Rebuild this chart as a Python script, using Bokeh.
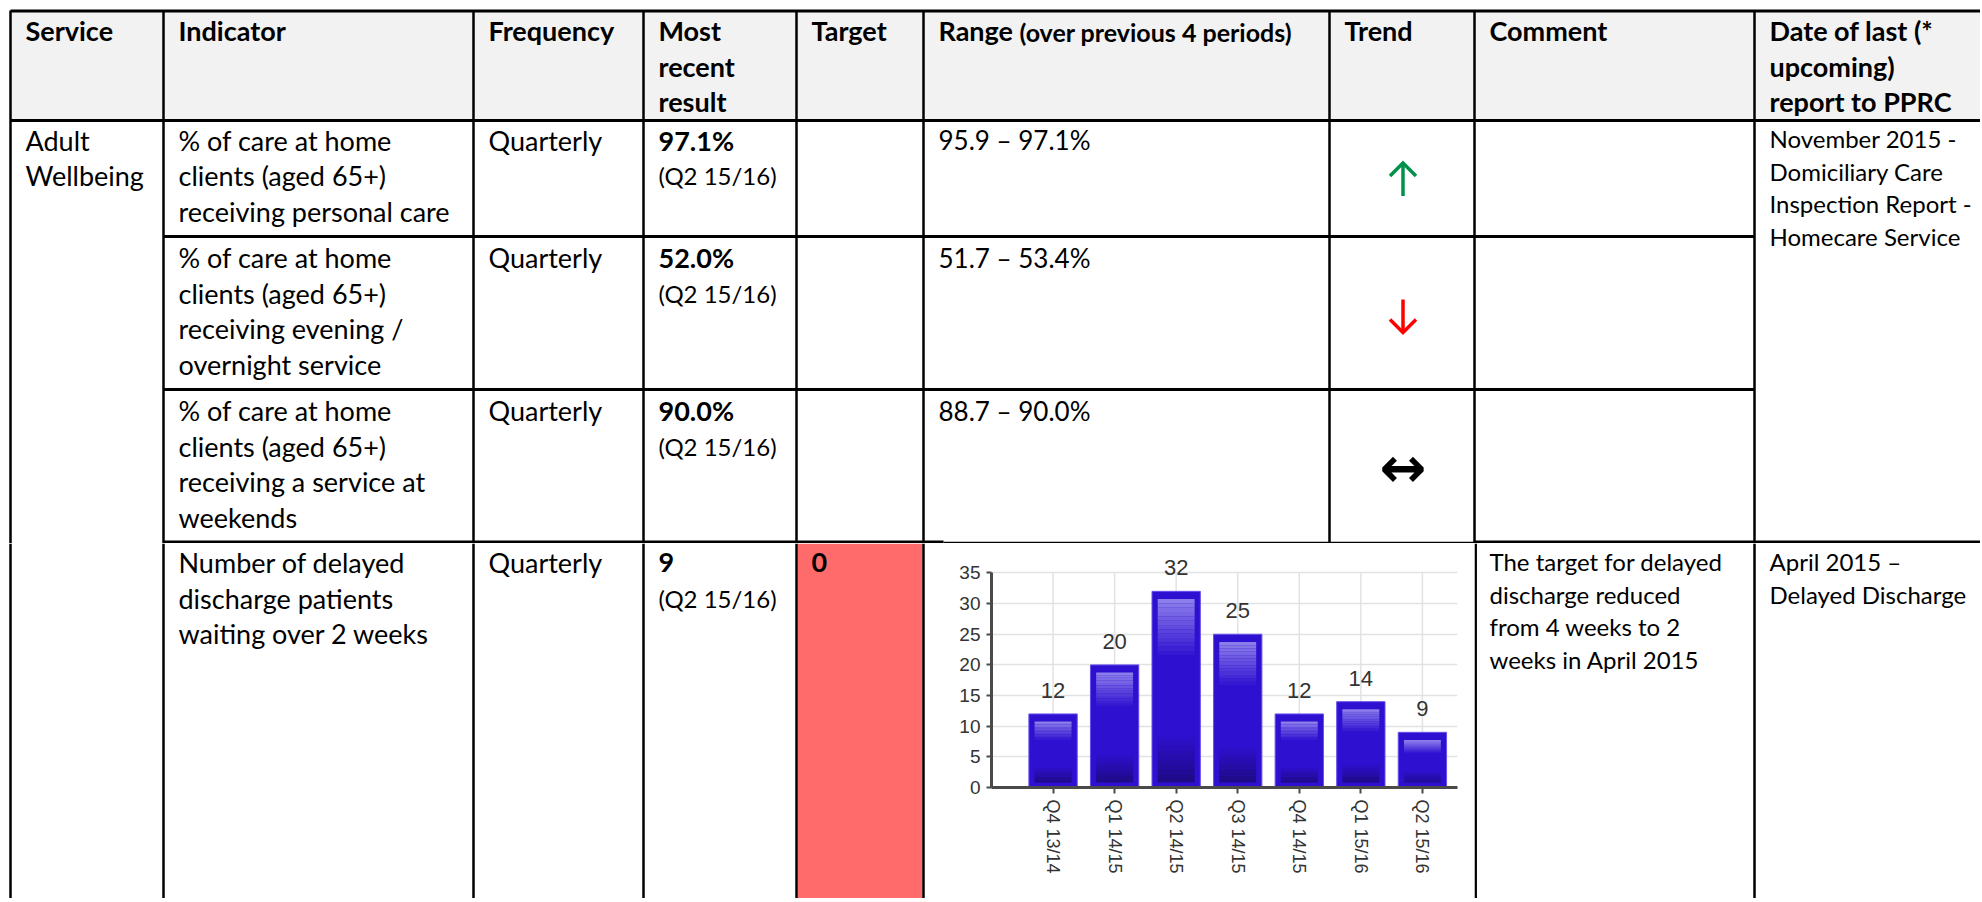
import math
from bokeh.plotting import figure
from bokeh.models import ColumnDataSource, Range1d, FixedTicker, LabelSet
from bokeh.layouts import column, row
from bokeh.embed import file_html
from bokeh.resources import INLINE
from bokeh.core.properties import value

# ---------------- table content ----------------
headers = ["Service", "Indicator", "Frequency", "Most\nrecent\nresult", "Target",
           "Range", "Trend", "Comment", "Date of last (*\nupcoming)\nreport to PPRC"]
range_header_note = "(over previous 4 periods)"
service = "Adult\nWellbeing"
indicators = [
    "% of care at home\nclients (aged 65+)\nreceiving personal care",
    "% of care at home\nclients (aged 65+)\nreceiving evening /\novernight service",
    "% of care at home\nclients (aged 65+)\nreceiving a service at\nweekends",
    "Number of delayed\ndischarge patients\nwaiting over 2 weeks",
]
frequency = ["Quarterly", "Quarterly", "Quarterly", "Quarterly"]
latest = ["97.1%", "52.0%", "90.0%", "9"]
latest_period = ["(Q2 15/16)", "(Q2 15/16)", "(Q2 15/16)", "(Q2 15/16)"]
targets = ["", "", "", "0"]
range_text = ["95.9 \u2013 97.1%", "51.7 \u2013 53.4%", "88.7 \u2013 90.0%", ""]
trend_symbols = ["\u2191", "\u2193", "\u2194", ""]
trend_colors = ["#00924a", "#ff0000", "#000000", "#000000"]
comments = ["", "", "", "The target for delayed\ndischarge reduced\nfrom 4 weeks to 2\nweeks in April 2015"]
report_dates = ["November 2015 -\nDomiciliary Care\nInspection Report -\nHomecare Service",
                "April 2015 \u2013\nDelayed Discharge"]

# ---------------- embedded chart data ----------------
quarters = ["Q4 13/14", "Q1 14/15", "Q2 14/15", "Q3 14/15", "Q4 14/15", "Q1 15/16", "Q2 15/16"]
delayed = [12, 20, 32, 25, 12, 14, 9]
y_ticks = [0, 5, 10, 15, 20, 25, 30, 35]

# ---------------- layout (page pixels) ----------------
COLS = [10, 163, 473, 643, 796, 923, 1329, 1474, 1754, 1982]
ROWS = [10, 120, 236, 389, 542]
PAGE_L, PAGE_R, PAGE_T, PAGE_B = 0, 1980, 0, 898
SPLIT_Y = 543
CHART_L, CHART_R = 926, 1474
PAD = 15
LS = 35.5       # body line spacing
LS2 = 32.5      # comment / date spacing
FONT = "Lato"
FS = 27
BORDER = "#000000"


def table_fig(x0, x1, y0, y1):
    p = figure(width=x1 - x0, height=y1 - y0, x_range=Range1d(x0, x1),
               y_range=Range1d(y1, y0), output_backend="svg", toolbar_location=None,
               x_axis_location=None, y_axis_location=None, min_border=0,
               outline_line_color=None, background_fill_color="white",
               border_fill_color="white", frame_align=False)
    p.grid.visible = False
    return p


def put(p, x, y, txt, size=FS, bold=False, color="#000000", spacing=LS, font=FONT):
    lines = txt.split("\n")
    p.text(x=[x] * len(lines), y=[y + i * spacing for i in range(len(lines))], text=lines,
           text_font=value(font), text_font_size=f"{size}px",
           text_font_style="bold" if bold else "normal", text_color=color,
           text_baseline="middle", text_align="left")


def hline(p, x0, x1, y, w=3):
    p.segment(x0=[x0], y0=[y], x1=[x1], y1=[y], line_color=BORDER, line_width=w)


def vline(p, x, y0, y1, w=2.5):
    p.segment(x0=[x], y0=[y0], x1=[x], y1=[y1], line_color=BORDER, line_width=w)


def trend_arrow(p, x, cy, direction, color):
    # direction: -1 = up (screen), +1 = down
    tip = cy + direction * 16.5
    tail = cy - direction * 16.5
    p.segment(x0=[x], y0=[tail], x1=[x], y1=[tip], line_color=color, line_width=3.5)
    p.line(x=[x - 13, x, x + 13], y=[tip - direction * 13, tip, tip - direction * 13],
           line_color=color, line_width=3.5, line_join="miter")


# ================= top part (header + rows 1-3) =================
top = table_fig(PAGE_L, PAGE_R, PAGE_T, SPLIT_Y)
top.quad(left=[COLS[0]], right=[PAGE_R], top=[ROWS[0]], bottom=[ROWS[1]],
         fill_color="#f2f2f2", line_color=None)

row_first = [ROWS[1] + 19.5, ROWS[2] + 21, ROWS[3] + 21]
hy = ROWS[0] + 20
for i, h in enumerate(headers):
    put(top, COLS[i] + PAD, hy, h, bold=True)
top.text(x=[1019], y=[hy + 1], text=[range_header_note], text_font=value(FONT),
         text_font_size="25px", text_font_style="bold", text_color="#000000",
         text_baseline="middle", text_align="left")

put(top, COLS[0] + PAD, row_first[0], service)
tx = (COLS[6] + COLS[7]) / 2 + 1
for r in range(3):
    y = row_first[r]
    put(top, COLS[1] + PAD, y, indicators[r])
    put(top, COLS[2] + PAD, y, frequency[r])
    put(top, COLS[3] + PAD, y, latest[r], bold=True)
    put(top, COLS[3] + PAD, y + LS, latest_period[r], size=24)
    put(top, COLS[5] + PAD, y, range_text[r], size=26)
    cy = (ROWS[r + 1] + ROWS[r + 2]) / 2 + 1
    sym, col = trend_symbols[r], trend_colors[r]
    if sym == "\u2191":
        trend_arrow(top, tx, cy, -1, col)
    elif sym == "\u2193":
        trend_arrow(top, tx, cy + 2, 1, col)
    else:
        top.text(x=[tx], y=[cy], text=[sym], text_font=value("DejaVu Sans"),
                 text_font_size="56px", text_font_style="bold",
                 text_color=col, text_align="center", text_baseline="middle")
put(top, COLS[8] + PAD, ROWS[1] + 18, report_dates[0], size=24, spacing=LS2)

hline(top, COLS[0], PAGE_R, ROWS[0] + 0.5)
hline(top, COLS[0], PAGE_R, ROWS[1])
hline(top, COLS[1], COLS[8], ROWS[2])
hline(top, COLS[1], COLS[8], ROWS[3])
hline(top, COLS[1], 943, SPLIT_Y - 1.5)
hline(top, 943, CHART_R, SPLIT_Y - 1, w=1.5)
hline(top, CHART_R, PAGE_R, SPLIT_Y - 1.5)
for x in COLS[:-1]:
    vline(top, x, ROWS[0], SPLIT_Y)

# ================= bottom left (row 4, left columns) =================
bl = table_fig(PAGE_L, CHART_L, SPLIT_Y, PAGE_B)
bl.quad(left=[COLS[4] + 1], right=[COLS[5] - 1], top=[SPLIT_Y], bottom=[PAGE_B],
        fill_color="#ff6b6b", line_color=None)
y4 = ROWS[4] + 20
put(bl, COLS[1] + PAD, y4, indicators[3])
put(bl, COLS[2] + PAD, y4, frequency[3])
put(bl, COLS[3] + PAD, y4, latest[3], bold=True)
put(bl, COLS[3] + PAD, y4 + LS, latest_period[3], size=24)
put(bl, COLS[4] + PAD, y4, targets[3], bold=True)
for x in COLS[:6]:
    vline(bl, x, SPLIT_Y, PAGE_B)

# ================= bottom right (comment + date) =================
br = table_fig(CHART_R, PAGE_R, SPLIT_Y, PAGE_B)
put(br, COLS[7] + PAD, y4 - 1, comments[3], size=24, spacing=LS2)
put(br, COLS[8] + PAD, y4 - 1, report_dates[1], size=24, spacing=LS2)
vline(br, COLS[7] + 1.2, SPLIT_Y, PAGE_B)
vline(br, COLS[8], SPLIT_Y, PAGE_B)

# ================= embedded bar chart =================
idx = list(range(len(quarters)))
chart = figure(width=CHART_R - CHART_L, height=PAGE_B - SPLIT_Y,
               x_range=Range1d(-1.0, 6.57), y_range=Range1d(0, 38.5),
               output_backend="svg", toolbar_location=None,
               min_border_left=65, min_border_right=17, min_border_top=8,
               min_border_bottom=PAGE_B - 787, outline_line_color=None,
               background_fill_color="white", border_fill_color="white",
               frame_align=False)

chart.xgrid.visible = False
chart.ygrid.ticker = FixedTicker(ticks=y_ticks)
chart.ygrid.grid_line_color = "#e2e2e2"
chart.ygrid.grid_line_width = 1.5
chart.segment(x0=idx, y0=[0] * len(idx), x1=idx, y1=[max(y_ticks)] * len(idx),
              line_color="#e2e2e2", line_width=1.5)

src = ColumnDataSource(dict(x=idx, top=delayed, label=[str(v) for v in delayed]))
chart.vbar(x="x", top="top", bottom=0, width=0.785, source=src,
           fill_color="#2e10d0", line_color="#6650ec", line_width=1)


def lerp(c1, c2, t):
    a = [int(c1[i:i + 2], 16) for i in (1, 3, 5)]
    b = [int(c2[i:i + 2], 16) for i in (1, 3, 5)]
    return "#%02x%02x%02x" % tuple(round(a[k] + (b[k] - a[k]) * t) for k in range(3))


LIGHT, BASE, DARK = "#8c7eea", "#2e10d0", "#1e0a86"
gx, gt, gb, gc = [], [], [], []
NT, NB = 14, 10
for i, v in zip(idx, delayed):
    ptop, pbot = v - 1.25, 0.8
    h = ptop - pbot
    tz, bz = 0.33 * h, 0.25 * h
    for k in range(NT):
        gx.append(i)
        gt.append(ptop - k * tz / NT)
        gb.append(ptop - (k + 1) * tz / NT)
        gc.append(lerp(LIGHT, BASE, k / (NT - 1)))
    for k in range(NB):
        gx.append(i)
        gt.append(pbot + bz - k * bz / NB)
        gb.append(pbot + bz - (k + 1) * bz / NB)
        gc.append(lerp(BASE, DARK, (k + 1) / NB))
chart.vbar(x=gx, top=gt, bottom=gb, width=0.6, fill_color=gc, line_color=None)

labels = LabelSet(x="x", y="top", text="label", source=src, y_offset=16,
                  text_align="center", text_baseline="alphabetic",
                  text_font=value("Liberation Sans"), text_font_size="22px",
                  text_color="#333333")
chart.add_layout(labels)

yax = chart.yaxis[0]
yax.ticker = FixedTicker(ticks=y_ticks)
yax.bounds = (0, max(y_ticks))
xax = chart.xaxis[0]
xax.ticker = FixedTicker(ticks=idx)
xax.major_label_overrides = {i: q for i, q in zip(idx, quarters)}
xax.major_label_orientation = -math.pi / 2
for ax in (xax, yax):
    ax.axis_line_color = "#4a4a4a"
    ax.axis_line_width = 3
    ax.major_tick_line_color = "#4a4a4a"
    ax.major_tick_line_width = 2
    ax.major_tick_in = 0
    ax.minor_tick_line_color = None
    ax.major_label_text_font = "Liberation Sans"
    ax.major_label_text_color = "#333333"
yax.major_label_text_font_size = "19px"
xax.major_label_text_font_size = "18px"
yax.major_tick_out = 5
yax.major_label_standoff = 6
xax.major_tick_out = 6
xax.major_label_standoff = 6

layout = column(top, row(bl, chart, br, spacing=0), spacing=0)
open("out.html", "w").write(file_html(layout, INLINE))
